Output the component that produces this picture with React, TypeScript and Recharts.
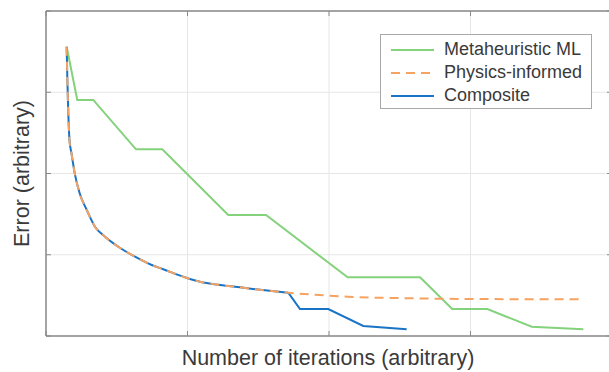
import React from "react";
import { LineChart, Line, XAxis, YAxis, CartesianGrid, Legend } from "recharts";

// Metaheuristic ML
const mlX = [0.146, 0.221, 0.334, 0.636, 0.822, 1.288, 1.555, 2.132, 2.643, 2.871, 3.119, 3.433, 3.797];
const mlY = [3.56, 2.905, 2.905, 2.298, 2.298, 1.489, 1.489, 0.722, 0.722, 0.332, 0.332, 0.114, 0.082];

// Physics-informed
const physX = [0.146, 0.151, 0.157, 0.166, 0.18, 0.203, 0.238, 0.288, 0.346, 0.417, 0.511, 0.629, 0.747, 0.829, 0.996, 1.088, 1.23, 1.371, 1.548, 1.712, 2.132, 2.643, 3.004, 3.786];
const physY = [3.56, 3.15, 2.78, 2.41, 2.249, 2.002, 1.756, 1.551, 1.345, 1.222, 1.099, 0.976, 0.874, 0.821, 0.714, 0.668, 0.628, 0.599, 0.562, 0.533, 0.484, 0.462, 0.455, 0.452];

// Composite: shared smooth decay, then its own stepped part
const compCurveX = [0.146, 0.151, 0.157, 0.166, 0.18, 0.203, 0.238, 0.288, 0.346, 0.417, 0.511, 0.629, 0.747, 0.829, 0.996, 1.088, 1.23, 1.371, 1.548, 1.712];
const compCurveY = [3.56, 3.15, 2.78, 2.41, 2.249, 2.002, 1.756, 1.551, 1.345, 1.222, 1.099, 0.976, 0.874, 0.821, 0.714, 0.668, 0.628, 0.599, 0.562, 0.533];
const compStepX = [1.712, 1.795, 1.995, 2.242, 2.549];
const compStepY = [0.533, 0.332, 0.332, 0.123, 0.082];

const xTicks = [0, 1, 2, 3, 4];
const yTicks = [0, 1, 2, 3, 4];

const seriesNames = ["Metaheuristic ML", "Physics-informed", "Composite"];
const colors = { ml: "#84d27c", phys: "#f6a261", comp: "#1a74c6" };

const zip = (xs: number[], ys: number[]) => xs.map((x, i) => ({ x, y: ys[i] }));
const mlData = zip(mlX, mlY);
const physData = zip(physX, physY);
const compCurveData = zip(compCurveX, compCurveY);
const compStepData = zip(compStepX, compStepY);

const FONT = '"Liberation Sans", Arial, Helvetica, sans-serif';
const AXIS = "#8a8a8a";

const legendItems = [
  { name: seriesNames[0], color: colors.ml, dash: undefined as string | undefined },
  { name: seriesNames[1], color: colors.phys, dash: "9 6" },
  { name: seriesNames[2], color: colors.comp, dash: undefined },
];

const LegendBox = () => (
  <div
    style={{
      width: 210,
      border: "1px solid #a8a8a8",
      background: "#fff",
      paddingTop: 3,
      paddingBottom: 1,
      fontFamily: FONT,
      fontSize: 18,
      color: "#3a3a3a",
    }}
  >
    {legendItems.map((it) => (
      <div key={it.name} style={{ display: "flex", alignItems: "center", height: 23 }}>
        <svg width={43} height={6} style={{ marginLeft: 10, marginRight: 10 }}>
          <line x1={0} y1={3} x2={43} y2={3} stroke={it.color} strokeWidth={2} strokeDasharray={it.dash} />
        </svg>
        <span style={{ whiteSpace: "nowrap" }}>{it.name}</span>
      </div>
    ))}
  </div>
);

const NoTick = () => <g />;

const axisCommon = {
  type: "number" as const,
  domain: [0, 4] as [number, number],
  allowDataOverflow: true,
  mirror: true,
  interval: 0 as const,
  tick: NoTick,
  tickSize: 5,
  axisLine: { stroke: AXIS, strokeWidth: 1.5 },
  tickLine: { stroke: AXIS, strokeWidth: 1 },
};

export default function App() {
  return (
    <div style={{ position: "absolute", left: 0, top: 0, width: 609, height: 372, overflow: "hidden", background: "#fff" }}>
      <LineChart width={620} height={372} margin={{ top: 11, left: 46, right: 8, bottom: 36 }}>
        <CartesianGrid stroke="#e6e6e6" strokeWidth={1} />
        <XAxis dataKey="x" ticks={xTicks} {...axisCommon} />
        <XAxis xAxisId="top" orientation="top" dataKey="x" ticks={xTicks} {...axisCommon} />
        <YAxis ticks={yTicks} {...axisCommon} />
        <YAxis yAxisId="right" orientation="right" ticks={yTicks} {...axisCommon} />
        <Line data={mlData} dataKey="y" name={seriesNames[0]} stroke={colors.ml} strokeWidth={2} dot={false} isAnimationActive={false} type="linear" />
        <Line data={compCurveData} dataKey="y" name={seriesNames[2]} stroke={colors.comp} strokeWidth={2} dot={false} isAnimationActive={false} type="monotoneX" />
        <Line data={compStepData} dataKey="y" name={seriesNames[2] + " "} stroke={colors.comp} strokeWidth={2} dot={false} isAnimationActive={false} type="linear" />
        <Line data={physData} dataKey="y" name={seriesNames[1]} stroke={colors.phys} strokeWidth={2} strokeDasharray="9 6" dot={false} isAnimationActive={false} type="monotoneX" />
        <Legend
          layout="vertical"
          align="center"
          verticalAlign="middle"
          wrapperStyle={{ left: 380, top: 34, width: 212 }}
          content={() => <LegendBox />}
        />
      </LineChart>
      <div
        style={{
          position: "absolute",
          left: 128,
          top: 348,
          width: 400,
          textAlign: "center",
          fontFamily: FONT,
          fontSize: 21.5,
          lineHeight: "21px",
          color: "#3a3a3a",
          whiteSpace: "nowrap",
        }}
      >
        Number of iterations (arbitrary)
      </div>
      <div
        style={{
          position: "absolute",
          left: 22 - 100,
          top: 173.5 - 10.5,
          width: 200,
          textAlign: "center",
          fontFamily: FONT,
          fontSize: 21.5,
          lineHeight: "21px",
          color: "#3a3a3a",
          whiteSpace: "nowrap",
          transform: "rotate(-90deg)",
        }}
      >
        Error (arbitrary)
      </div>
    </div>
  );
}
